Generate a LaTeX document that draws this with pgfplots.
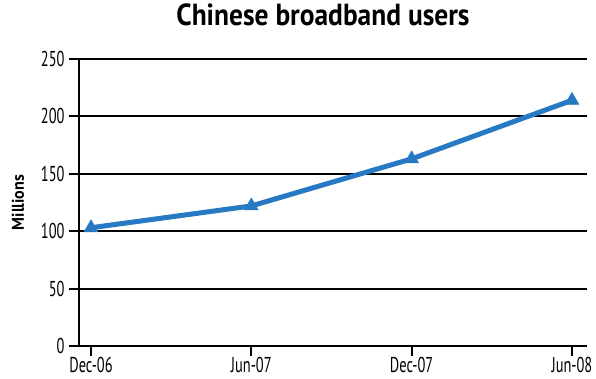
\documentclass[border=0pt]{standalone}
\usepackage{pgfplots}
\pgfplotsset{compat=1.18}
\usepackage{fontspec}
\setmainfont{PT Sans}[FakeStretch=0.67]
\newfontfamily\titlefont{PT Sans}[FakeStretch=0.9]
\newfontfamily\labelfont{PT Sans}[FakeStretch=0.95]
\definecolor{lineblue}{RGB}{38,121,194}
\begin{document}
\begin{tikzpicture}
\begin{axis}[
  name=ax,
  scale only axis,
  width=508pt, height=287pt,
  xmin=-0.075, xmax=3.094,
  ymin=0, ymax=250,
  axis x line=bottom, axis y line=left,
  axis line style={-, line width=2pt, black},
  xtick={0,1,2,3},
  xticklabels={Dec-06,Jun-07,Dec-07,Jun-08},
  ytick={0,50,100,150,200,250},
  tick align=outside,
  tick style={line width=2pt, black},
  major tick length=10pt,
  ymajorgrids,
  grid style={line width=2pt, black},
  /pgf/number format/assume math mode=true,
  tick label style={font=\fontsize{21.5}{22}\selectfont},
  yticklabel style={xshift=-1pt},
  xticklabel style={yshift=2pt},
  ylabel={\bfseries Millions},
  ylabel style={at={(axis description cs:0,0.5)}, anchor=center, yshift=61pt, font=\labelfont\fontsize{17}{18}\selectfont},
  title={\bfseries Chinese broadband users},
  title style={at={(axis description cs:0.5,1)}, anchor=center, yshift=38pt, xshift=-10pt, font=\titlefont\fontsize{30.5}{31}\selectfont},
  clip=false,
]
\addplot[lineblue, line width=5pt, mark=triangle*, mark size=8pt, mark options={fill=lineblue, draw=lineblue, line width=0.5pt}]
  coordinates {(0,103) (1,122) (2,163) (3,214)};
\end{axis}
\pgfresetboundingbox
\path[use as bounding box] (ax.south west) ++(-79pt,-32pt) rectangle ++(596pt,378pt);
\end{tikzpicture}
\end{document}
